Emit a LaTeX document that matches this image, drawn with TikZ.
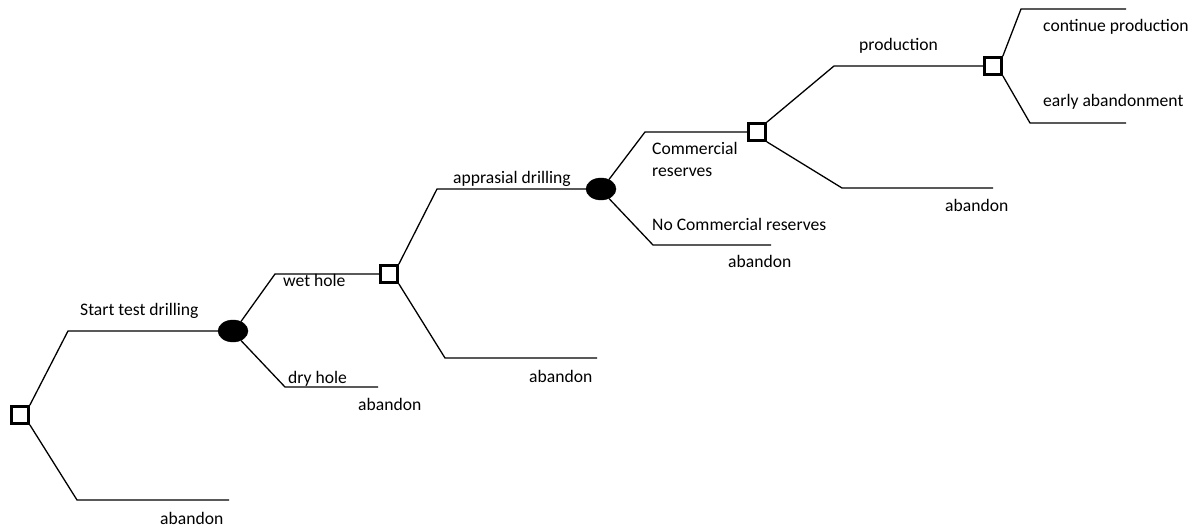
\documentclass[tikz,border=0pt]{standalone}
\usepackage{fontspec}
\setmainfont{Carlito}
\usetikzlibrary{shapes.geometric}
\begin{document}
\begin{tikzpicture}[x=1pt,y=-1pt,
  decision/.style={draw, rectangle, line width=2.6pt, minimum size=17pt, inner sep=0pt},
  chance/.style={draw, ellipse, fill=black, minimum width=30pt, minimum height=22pt, inner sep=0pt},
  branch/.style={line width=1.3pt},
  lbl/.style={font=\fontsize{17.6}{21}\selectfont, inner sep=0pt, anchor=base west}]
\useasboundingbox (0,0) rectangle (1199,529);
% nodes
\node[decision] (d1) at (20,415) {};
\node[chance] (c1) at (233,331) {};
\node[decision] (d2) at (389,274) {};
\node[chance] (c2) at (601,189) {};
\node[decision] (d3) at (757,132) {};
\node[decision] (d4) at (993,66) {};
% bend/end coordinates
\coordinate (a1) at (68,331);
\coordinate (a2) at (77,500); \coordinate (a2e) at (229,500);
\coordinate (b1) at (275,274);
\coordinate (b2) at (285,387); \coordinate (b2e) at (378,387);
\coordinate (g1) at (437,189);
\coordinate (g2) at (445,358); \coordinate (g2e) at (597,358);
\coordinate (h1) at (645,132);
\coordinate (h2) at (653,245); \coordinate (h2e) at (771,245);
\coordinate (k1) at (834,66);
\coordinate (k2) at (842,188); \coordinate (k2e) at (993,188);
\coordinate (m1) at (1021,9); \coordinate (m1e) at (1126,9);
\coordinate (m2) at (1030,123); \coordinate (m2e) at (1126,123);
% connectors
\draw[branch] (d1.north east) -- (a1) -- (c1.west);
\draw[branch] (d1.south east) -- (a2) -- (a2e);
\draw[branch] (c1.50) -- (b1) -- (d2.west);
\draw[branch] (c1.-50) -- (b2) -- (b2e);
\draw[branch] (d2.north east) -- (g1) -- (c2.west);
\draw[branch] (d2.south east) -- (g2) -- (g2e);
\draw[branch] (c2.50) -- (h1) -- (d3.west);
\draw[branch] (c2.-50) -- (h2) -- (h2e);
\draw[branch] (d3.north east) -- (k1) -- (d4.west);
\draw[branch] (d3.south east) -- (k2) -- (k2e);
\draw[branch] (d4.north east) -- (m1) -- (m1e);
\draw[branch] (d4.south east) -- (m2) -- (m2e);
% labels
\node[lbl] (t1) at (80,316) {Start test drilling};
\node[lbl] (t2) at (160,524) {abandon};
\node[lbl] (t3) at (283,287) {wet hole};
\node[lbl] (t4) at (288,383) {dry hole};
\node[lbl] (t5) at (358,410) {abandon};
\node[lbl] (t6) at (453,184) {apprasial drilling};
\node[lbl] (t7) at (529,382) {abandon};
\node[lbl] (t8) at (652,155) {Commercial};
\node[lbl] (t9) at (652,177) {reserves};
\node[lbl] (t10) at (652,231) {No Commercial reserves};
\node[lbl] (t11) at (728,268) {abandon};
\node[lbl] (t12) at (859,51) {production};
\node[lbl] (t13) at (945,212) {abandon};
\node[lbl] (t14) at (1043,32) {continue production};
\node[lbl] (t15) at (1043,107) {early abandonment};
\end{tikzpicture}
\end{document}
